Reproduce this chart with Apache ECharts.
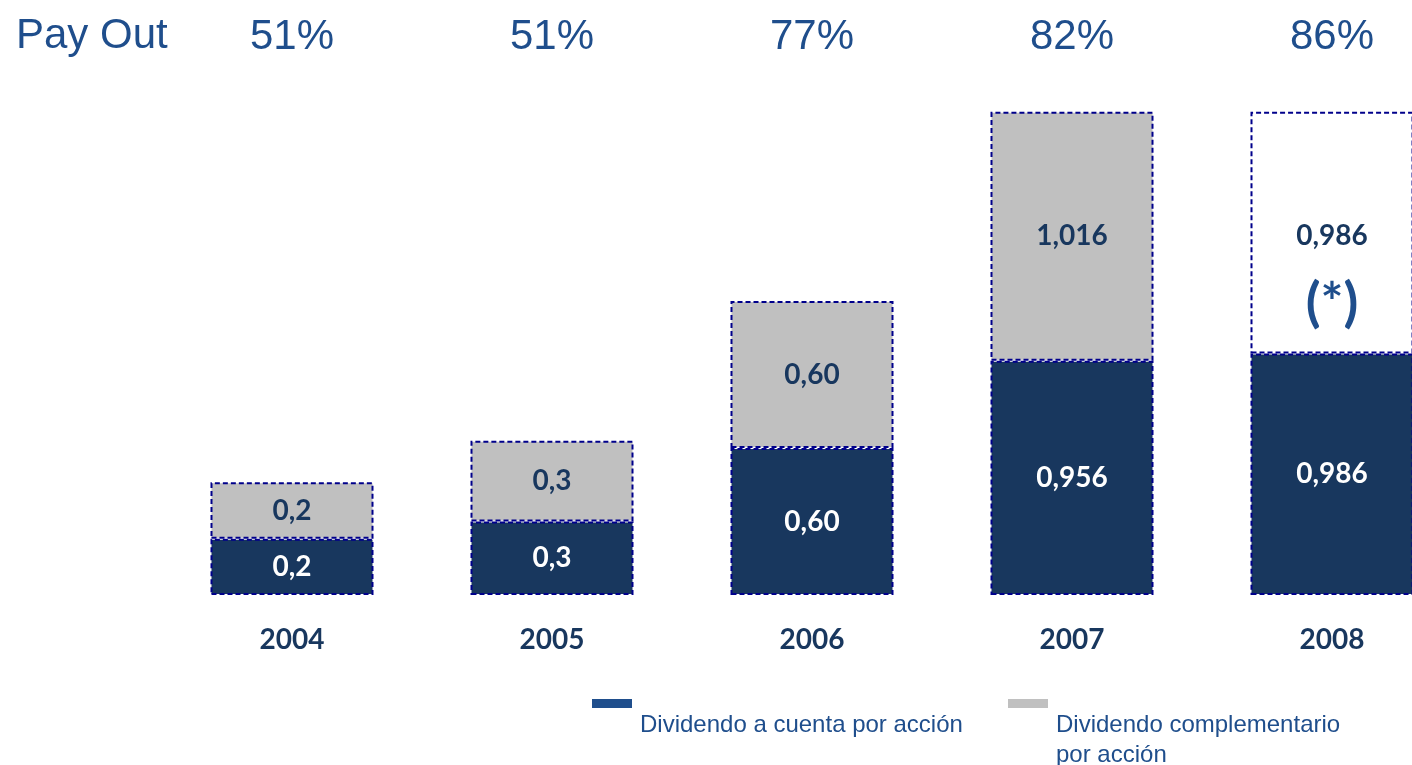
<!DOCTYPE html>
<html><head><meta charset="utf-8">
<script src="https://cdn.jsdelivr.net/npm/echarts@6/dist/echarts.min.js"></script>
<style>html,body{margin:0;padding:0;background:#fff}#c{width:1412px;height:765px}</style>
</head><body><div id="c"></div>
<script>
const years = ['2004','2005','2006','2007','2008'];
const payout = ['51%','51%','77%','82%','86%'];
const seriesNames = ['Dividendo a cuenta por acción', 'Dividendo complementario\npor acción'];
const dividendoCuenta = [0.23, 0.30, 0.60, 0.956, 0.986];
const dividendoComplementario = [0.23, 0.33, 0.60, 1.016, 0.986];
const labelsCuenta = ['0,2','0,3','0,60','0,956','0,986'];
const labelsComplementario = ['0,2','0,3','0,60','1,016','0,986'];
const pendingIndex = 4; // 2008 complementary not yet paid: shown as (*)

const NAVY = '#18375E', GRAY = '#C0C0C0', BLUE = '#1F4E8C', BORDER = '#00008B';
const chart = echarts.init(document.getElementById('c'), null, {renderer: 'canvas'});

const compData = dividendoComplementario.map((v, i) => {
  const item = {value: v};
  if (i === pendingIndex) {
    item.itemStyle = {color: '#ffffff'};
    item.label = {
      formatter: '{a|' + labelsComplementario[i] + '}\n{b|(*)}',
      offset: [0, 37]
    };
  }
  return item;
});

chart.setOption({
  animation: false,
  grid: {left: 292, top: 56, right: 80, height: 539, containLabel: false},
  xAxis: [{
    type: 'category', data: years, position: 'bottom', boundaryGap: false,
    axisLine: {show: false}, axisTick: {show: false}, splitLine: {show: false},
    axisLabel: {fontFamily: 'Lato', fontWeight: 'bold', fontSize: 28, color: NAVY, margin: 45, verticalAlign: 'middle'}
  }, {
    type: 'category', data: payout, position: 'top', boundaryGap: false,
    axisLine: {show: false}, axisTick: {show: false}, splitLine: {show: false},
    axisLabel: {fontFamily: 'Liberation Sans', fontSize: 42, color: BLUE, margin: 19, verticalAlign: 'middle'}
  }],
  yAxis: {type: 'value', min: 0, max: 2.2, show: false, splitLine: {show: false}},
  series: [{
    name: seriesNames[0], type: 'bar', stack: 'd', barWidth: 163,
    data: dividendoCuenta,
    itemStyle: {color: NAVY, borderColor: BORDER, borderWidth: 2, borderType: [5, 3]},
    label: {show: true, position: 'inside', formatter: p => labelsCuenta[p.dataIndex],
      fontFamily: 'Lato', fontWeight: 'bold', fontSize: 28, color: '#ffffff'}
  }, {
    name: seriesNames[1], type: 'bar', stack: 'd', barWidth: 163,
    data: compData,
    itemStyle: {color: GRAY, borderColor: BORDER, borderWidth: 2, borderType: [5, 3]},
    label: {show: true, position: 'inside', formatter: p => labelsComplementario[p.dataIndex],
      fontFamily: 'Lato', fontWeight: 'bold', fontSize: 28, color: NAVY,
      rich: {
        a: {fontFamily: 'Lato', fontWeight: 'bold', fontSize: 28, color: NAVY, lineHeight: 67},
        b: {fontFamily: 'Lato', fontWeight: 'bold', fontSize: 54, color: BLUE, lineHeight: 67}
      }}
  }],
  graphic: [
    {type: 'text', left: 16, top: 15, style: {text: 'Pay Out', fontFamily: 'Liberation Sans', fontSize: 42, fill: BLUE}},
    {type: 'rect', shape: {x: 592, y: 699, width: 40, height: 9}, style: {fill: BLUE}},
    {type: 'text', x: 640, y: 710, style: {text: seriesNames[0], fontFamily: 'Liberation Sans', fontSize: 24, fill: BLUE, lineHeight: 30}},
    {type: 'rect', shape: {x: 1008, y: 699, width: 40, height: 9}, style: {fill: GRAY}},
    {type: 'text', x: 1056, y: 710, style: {text: seriesNames[1], fontFamily: 'Liberation Sans', fontSize: 24, fill: BLUE, lineHeight: 30}}
  ]
});
</script></body></html>
